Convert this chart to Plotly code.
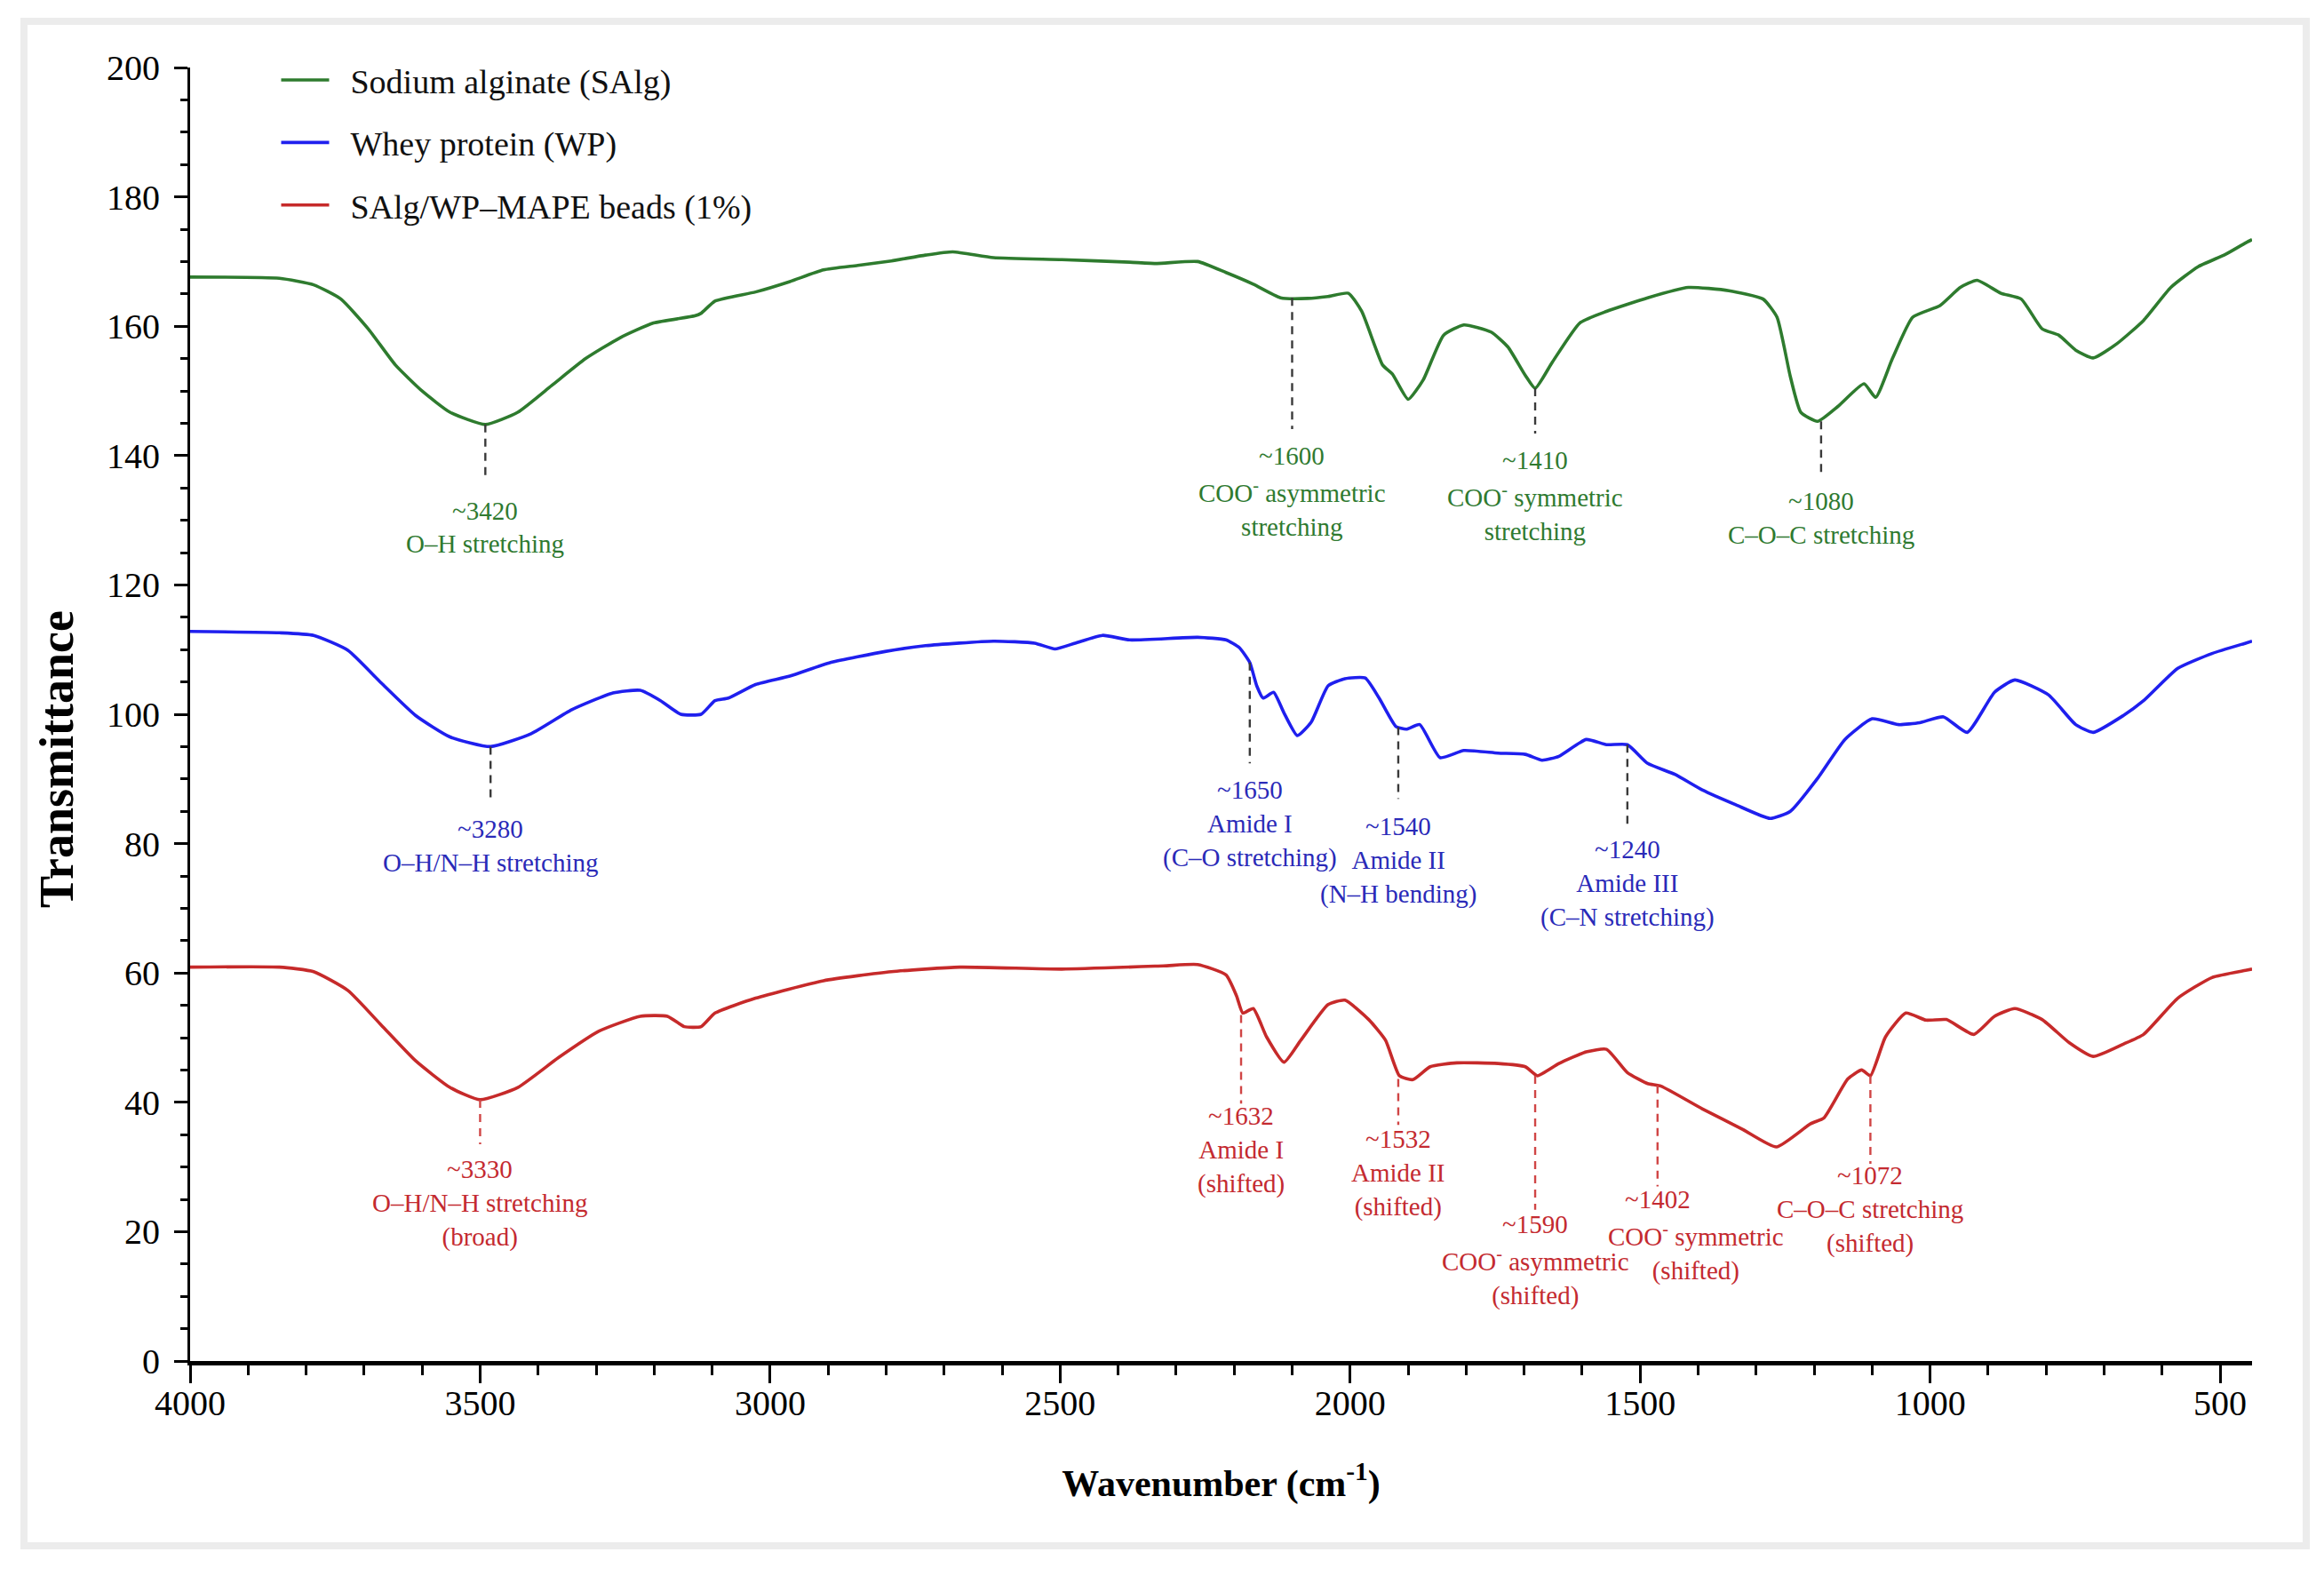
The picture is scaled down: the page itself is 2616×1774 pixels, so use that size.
import plotly.graph_objects as go

# ---------------- data ----------------
salg_wn = [4000, 3846, 3787, 3740, 3693, 3646, 3599, 3552, 3491, 3435,
           3377, 3318, 3259, 3201, 3130, 3119, 3095, 3025, 2966, 2908,
           2849, 2791, 2732, 2685, 2615, 2497, 2380, 2333, 2263, 2214,
           2167, 2120, 2073, 2038, 2003, 1980, 1944, 1927, 1900, 1874,
           1839, 1804, 1757, 1728, 1698, 1681, 1651, 1604, 1558, 1487,
           1417, 1347, 1288, 1264, 1241, 1223, 1194, 1159, 1114, 1094,
           1065, 1030, 983, 948, 919, 878, 843, 807, 778, 749,
           719, 678, 632, 585, 538, 491, 456, 445]
salg_t = [167.6, 167.4, 166.4, 164.2, 159.6, 154.0, 149.9, 146.7, 144.8, 146.7,
          150.8, 155.0, 158.2, 160.5, 161.6, 162.0, 163.9, 165.3, 166.9, 168.7,
          169.4, 170.1, 171.0, 171.5, 170.6, 170.3, 169.9, 169.7, 170.0, 168.3,
          166.5, 164.4, 164.3, 164.6, 165.1, 162.3, 154.0, 152.6, 148.7, 151.7,
          158.6, 160.2, 159.1, 156.8, 152.4, 150.4, 154.5, 160.5, 162.3, 164.4,
          166.0, 165.5, 164.2, 161.4, 152.2, 146.7, 145.3, 147.6, 151.1, 149.0,
          155.0, 161.4, 163.2, 166.0, 167.1, 165.1, 164.2, 159.6, 158.6, 156.3,
          155.1, 157.3, 160.9, 166.0, 169.2, 171.1, 172.9, 173.4]

wp_wn = [4000, 3846, 3787, 3728, 3670, 3611, 3552, 3482, 3412, 3342,
         3271, 3224, 3189, 3154, 3119, 3095, 3072, 3025, 2966, 2896,
         2802, 2732, 2615, 2544, 2509, 2474, 2427, 2380, 2263, 2214,
         2191, 2173, 2161, 2150, 2132, 2114, 2091, 2067, 2038, 2009,
         1974, 1950, 1921, 1903, 1880, 1845, 1804, 1745, 1698, 1669,
         1640, 1593, 1558, 1522, 1487, 1440, 1393, 1335, 1276, 1241,
         1194, 1147, 1100, 1054, 1018, 977, 936, 889, 854, 796,
         749, 719, 667, 632, 573, 514, 456, 445]
wp_t = [112.8, 112.6, 112.2, 109.9, 104.8, 99.8, 96.5, 95.0, 97.0, 100.7,
        103.3, 103.7, 102.1, 100.0, 100.0, 102.1, 102.5, 104.6, 105.9, 108.0,
        109.7, 110.6, 111.3, 111.0, 110.1, 111.0, 112.2, 111.5, 111.9, 111.5,
        110.3, 108.0, 104.4, 102.5, 103.4, 100.2, 96.7, 98.8, 104.4, 105.5,
        105.6, 102.5, 98.1, 97.7, 98.4, 93.3, 94.4, 94.0, 93.8, 92.9,
        93.5, 96.1, 95.3, 95.3, 92.4, 90.7, 88.3, 86.0, 83.9, 85.0,
        90.1, 96.1, 99.3, 98.4, 98.7, 99.6, 97.2, 103.4, 105.3, 103.0,
        98.4, 97.2, 99.8, 102.1, 107.1, 109.4, 111.0, 111.3]

beads_wn = [4000, 3846, 3787, 3728, 3670, 3611, 3552, 3500, 3435, 3365,
            3295, 3224, 3177, 3148, 3119, 3095, 3025, 2908, 2791, 2673,
            2497, 2322, 2263, 2214, 2196, 2185, 2167, 2144, 2114, 2085,
            2038, 2009, 1968, 1939, 1915, 1892, 1862, 1816, 1745, 1698,
            1677, 1640, 1593, 1558, 1522, 1487, 1464, 1393, 1323, 1265,
            1206, 1183, 1142, 1118, 1103, 1077, 1042, 1007, 972, 925,
            889, 854, 807, 760, 719, 667, 632, 573, 514, 456,
            445]
beads_t = [60.9, 60.9, 60.2, 57.3, 51.9, 46.4, 42.3, 40.4, 42.3, 46.9,
           51.0, 53.3, 53.3, 51.7, 51.7, 53.8, 56.1, 58.8, 60.2, 60.9,
           60.6, 61.1, 61.3, 59.7, 56.5, 53.8, 54.5, 50.1, 46.2, 49.6,
           55.1, 55.8, 52.8, 49.6, 44.1, 43.5, 45.5, 46.1, 46.0, 45.5,
           44.1, 46.0, 47.8, 48.2, 44.6, 42.9, 42.5, 39.0, 35.8, 33.1,
           36.7, 37.6, 43.6, 45.0, 44.1, 50.1, 53.8, 52.7, 52.8, 50.5,
           53.3, 54.5, 52.8, 49.2, 47.1, 49.0, 50.5, 56.1, 59.3, 60.4,
           60.6]

series_names = ["Sodium alginate (SAlg)", "Whey protein (WP)", "SAlg/WP\u2013MAPE beads (1%)"]

# peak annotations
ann_wn = [3491, 2100, 1681, 1188,
          3482, 2173, 1917, 1522,
          3500, 2188, 1917, 1681, 1470, 1103]
ann_desc_wn = [3491, 2100, 1681, 1188,
               3482, 2173, 1917, 1522,
               3500, 2188, 1917, 1681, 1404, 1103]
ann_dash_top = [144.8, 164.4, 150.4, 145.3,
                95.0, 108.0, 98.0, 95.3,
                40.4, 53.5, 43.6, 44.1, 42.6, 44.1]
ann_dash_bot = [137.0, 144.1, 143.4, 137.0,
                86.9, 92.4, 86.9, 82.7,
                33.5, 39.8, 36.5, 23.4, 27.0, 30.5]
ann_text_y = [131.5, 140.0, 139.3, 132.9,
              82.3, 88.3, 82.7, 79.1,
              29.7, 37.9, 34.3, 21.1, 25.0, 28.7]
ann_label = ["~3420", "~1600", "~1410", "~1080",
             "~3280", "~1650", "~1540", "~1240",
             "~3330", "~1632", "~1532", "~1590", "~1402", "~1072"]
ann_desc = ["O\u2013H stretching",
            "COO<sup>-</sup> asymmetric<br>stretching",
            "COO<sup>-</sup> symmetric<br>stretching",
            "C\u2013O\u2013C stretching",
            "O\u2013H/N\u2013H stretching",
            "Amide I<br>(C\u2013O stretching)",
            "Amide II<br>(N\u2013H bending)",
            "Amide III<br>(C\u2013N stretching)",
            "O\u2013H/N\u2013H stretching<br>(broad)",
            "Amide I<br>(shifted)",
            "Amide II<br>(shifted)",
            "COO<sup>-</sup> asymmetric<br>(shifted)",
            "COO<sup>-</sup> symmetric<br>(shifted)",
            "C\u2013O\u2013C stretching<br>(shifted)"]
ann_series = [0, 0, 0, 0, 1, 1, 1, 1, 2, 2, 2, 2, 2, 2]

x_ticks = [4000, 3500, 3000, 2500, 2000, 1500, 1000, 500]
y_ticks = [0, 20, 40, 60, 80, 100, 120, 140, 160, 180, 200]

# ---------------- styling ----------------
line_colors = ["#2e7b2e", "#1f1fee", "#c62a2a"]
text_colors = ["#2f7a30", "#2a2ab8", "#c42a30"]
dash_colors = ["#3a3a3a", "#3a3a3a", "#d04545"]
SERIF = "Liberation Serif"
ANN_SIZE = 29
LINE_STEP = 5.3  # data units between annotation text lines

# page has an 8px body margin; figure pixel = screen pixel - 8
OFF = 8
W, H = 2600, 1758
L, R, T, B = 214 - OFF, 2535 - OFF, 76 - OFF, 1532 - OFF

fig = go.Figure()
for name, xs, ys, col, grp in zip(series_names,
                                  [salg_wn, wp_wn, beads_wn],
                                  [salg_t, wp_t, beads_t],
                                  line_colors, ["a", "b", "c"]):
    assert len(xs) == len(ys)
    fig.add_trace(go.Scatter(x=xs, y=ys, mode="lines", name="\u2002" + name, legendgroup=grp,
                             line=dict(color=col, width=3.6, shape="spline", smoothing=0.5)))

shapes = []
annotations = []
for wn, dwn, yt, yb, ty, lab, desc, s in zip(ann_wn, ann_desc_wn, ann_dash_top, ann_dash_bot,
                                             ann_text_y, ann_label, ann_desc, ann_series):
    shapes.append(dict(type="line", xref="x", yref="y", x0=wn, x1=wn, y0=yt, y1=yb,
                       line=dict(color=dash_colors[s], width=2.4, dash="9px,7px")))
    annotations.append(dict(x=wn, y=ty, xref="x", yref="y", text=lab, showarrow=False,
                            xanchor="center", yanchor="middle",
                            font=dict(family=SERIF, size=ANN_SIZE, color=text_colors[s])))
    annotations.append(dict(x=dwn, y=ty - LINE_STEP, xref="x", yref="y", text=desc, showarrow=False,
                            xanchor="center", yanchor="top", align="center",
                            yshift=0.65 * ANN_SIZE,
                            font=dict(family=SERIF, size=ANN_SIZE, color=text_colors[s])))


def px_to_paper_x(p):  # p in screen pixels
    return (p - OFF - L) / (R - L)


def px_to_paper_y(p):
    return (B - (p - OFF)) / (B - T)


# y-axis title as rotated text (sits a little below the axis centre in the reference)
annotations.append(dict(x=px_to_paper_x(64), y=px_to_paper_y(855), xref="paper", yref="paper",
                        text="<b>Transmittance</b>", textangle=-90, showarrow=False,
                        xanchor="center", yanchor="middle",
                        font=dict(family=SERIF, size=54, color="black")))

# light grey outer frame
shapes.append(dict(type="rect", xref="paper", yref="paper",
                   x0=px_to_paper_x(27), x1=px_to_paper_x(2596),
                   y0=px_to_paper_y(1740), y1=px_to_paper_y(24),
                   line=dict(color="#ececec", width=8), layer="below"))

fig.update_layout(
    width=W, height=H, autosize=False,
    margin=dict(l=L, r=W - R, t=T, b=H - B, pad=0),
    paper_bgcolor="white", plot_bgcolor="white",
    font=dict(family=SERIF, color="black"),
    shapes=shapes, annotations=annotations,
    legend=dict(x=0.042, y=1.0118, xanchor="left", yanchor="top",
                font=dict(family=SERIF, size=38, color="#111111"),
                bgcolor="rgba(0,0,0,0)", itemwidth=54, tracegroupgap=18,
                traceorder="grouped"),
    xaxis=dict(range=[4000, 445], tickmode="array", tickvals=x_ticks,
               ticktext=[str(v) for v in x_ticks],
               showgrid=False, zeroline=False, showline=True, linecolor="black", linewidth=5,
               ticks="outside", ticklen=20, tickwidth=3, tickcolor="black",
               ticklabelstandoff=-12,
               minor=dict(dtick=100, tick0=0, ticks="outside", ticklen=11, tickwidth=3,
                          tickcolor="black", showgrid=False),
               tickfont=dict(family=SERIF, size=40, color="black"),
               title=dict(text="<b>Wavenumber (cm<sup>-1</sup>)</b>", standoff=55,
                          font=dict(family=SERIF, size=42, color="black"))),
    yaxis=dict(range=[0, 200], tickmode="array", tickvals=y_ticks,
               showgrid=False, zeroline=False, showline=True, linecolor="black", linewidth=3,
               ticks="outside", ticklen=15, tickwidth=3, tickcolor="black",
               ticklabelstandoff=8,
               minor=dict(dtick=5, tick0=0, ticks="outside", ticklen=8, tickwidth=3,
                          tickcolor="black", showgrid=False),
               tickfont=dict(family=SERIF, size=40, color="black")),
)

fig.write_html("out.html")
